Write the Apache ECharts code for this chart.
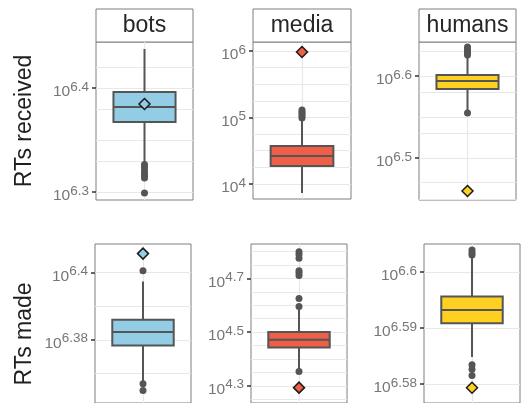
<!DOCTYPE html>
<html>
<head>
<meta charset="utf-8">
<script src="https://cdn.jsdelivr.net/npm/echarts@6.0.0/dist/echarts.min.js"></script>
<style>
html, body { margin: 0; padding: 0; background: #fff; }
#chart { width: 522px; height: 403px; }
</style>
</head>
<body>
<div id="chart"></div>
<script>
// facets
const categories = ['bots', 'media', 'humans'];
const rowTitles = ['RTs received', 'RTs made'];
const boxColors = ['#93cde5', '#ee5e48', '#fdd021'];

// all values are log10 of the counts
// [lower whisker, Q1, median, Q3, upper whisker]
const receivedBots = [6.3285, 6.3673, 6.3817, 6.3962, 6.4375];
const receivedMedia = [3.865, 4.271, 4.421, 4.571, 4.947];
const receivedHumans = [6.5585, 6.5841, 6.5939, 6.6012, 6.6244];
const madeBots = [6.3677, 6.3783, 6.3823, 6.386, 6.3974];
const madeMedia = [4.36, 4.4429, 4.4714, 4.5, 4.587];
const madeHumans = [6.5848, 6.5908, 6.5932, 6.5956, 6.6029];

// outliers
const receivedBotsOut = [6.3265, 6.324, 6.321, 6.318, 6.3155, 6.3135, 6.299];
const receivedMediaOut = [5.113, 5.083, 5.053, 5.023, 4.992];
const receivedHumansOut = [6.6354, 6.633, 6.6305, 6.628, 6.6256, 6.5549];
const madeBotsOut = [6.4006, 6.3669, 6.3649];
const madeMediaOut = [4.8, 4.789, 4.775, 4.729, 4.721, 4.711, 4.625, 4.596, 4.353];
const madeHumansOut = [6.6039, 6.6034, 6.603, 6.5834, 6.5826, 6.5815];

// means (diamonds)
const receivedMeans = [6.3846, 5.985, 6.4598];
const madeMeans = [6.4057, 4.293, 6.5793];

// labelled ticks (exponents of 10)
const receivedTicks = [[6.3, 6.4], [4, 5, 6], [6.5, 6.6]];
const madeTicks = [[6.38, 6.4], [4.3, 4.5, 4.7], [6.58, 6.59, 6.6]];

const boxes = [receivedBots, receivedMedia, receivedHumans, madeBots, madeMedia, madeHumans];
const outliers = [receivedBotsOut, receivedMediaOut, receivedHumansOut, madeBotsOut, madeMediaOut, madeHumansOut];
const means = receivedMeans.concat(madeMeans);
const ticks = receivedTicks.concat(madeTicks);

// panel placement + axis range + minor grid step
const panels = [
  { left: 96, top: 42, width: 97, height: 158, min: 6.2923, max: 6.4442, step: 0.025 },
  { left: 253, top: 42, width: 98, height: 157, min: 3.774, max: 6.135, step: 0.25 },
  { left: 419, top: 42, width: 97, height: 158, min: 6.4488, max: 6.6415, step: 0.025 },
  { left: 95, top: 244, width: 96, height: 166, min: 6.36114, max: 6.40857, step: 0.005 },
  { left: 251, top: 244, width: 96, height: 166, min: 4.2357, max: 4.8286, step: 0.05 },
  { left: 424, top: 244, width: 96, height: 166, min: 6.57658, max: 6.60496, step: 0.0025 }
];

const fontFamily = '"Liberation Sans", Arial, Helvetica, sans-serif';
const tickColor = '#767676';
const borderColor = '#7f7f7f';
const lineColor = '#555555';

const chart = echarts.init(document.getElementById('chart'));

const makeBoxRender = (color) => (params, api) => {
  const x = api.value(0);
  const lo = api.coord([x, api.value(1)]);
  const q1 = api.coord([x, api.value(2)]);
  const md = api.coord([x, api.value(3)]);
  const q3 = api.coord([x, api.value(4)]);
  const hi = api.coord([x, api.value(5)]);
  const half = api.size([1, 0])[0] * 0.32;
  const cx = md[0];
  const line = { stroke: lineColor, lineWidth: 2 };
  return {
    type: 'group',
    children: [
      { type: 'line', shape: { x1: cx, y1: hi[1], x2: cx, y2: q3[1] }, style: line },
      { type: 'line', shape: { x1: cx, y1: q1[1], x2: cx, y2: lo[1] }, style: line },
      { type: 'rect', shape: { x: cx - half, y: q3[1], width: half * 2, height: q1[1] - q3[1] },
        style: { fill: color, stroke: lineColor, lineWidth: 2 } },
      { type: 'line', shape: { x1: cx - half, y1: md[1], x2: cx + half, y2: md[1] }, style: line }
    ]
  };
};

const grid = [], xAxis = [], yAxis = [], series = [], graphic = [];

panels.forEach((p, i) => {
  const col = i % 3;
  const cat = categories[col];
  const color = boxColors[col];

  grid.push({
    left: p.left, top: p.top, width: p.width, height: p.height,
    show: true, borderColor: borderColor, borderWidth: 1, containLabel: false
  });
  xAxis.push({
    type: 'category', gridIndex: i, data: [cat],
    axisLine: { show: false }, axisTick: { show: false }, axisLabel: { show: false },
    splitLine: { show: false }
  });
  yAxis.push({
    type: 'value', gridIndex: i, min: p.min, max: p.max,
    axisLine: { show: false },
    splitLine: { show: false },
    axisTick: { show: true, length: 4, customValues: ticks[i], lineStyle: { color: '#333', width: 1.5 } },
    axisLabel: {
      customValues: ticks[i],
      margin: 7,
      padding: [8, 0, 0, 0],
      formatter: (v) => '{b|10}{s|' + v + '}',
      rich: {
        b: { fontSize: 15.5, lineHeight: 24, color: tickColor, fontFamily: fontFamily },
        s: { fontSize: 13.5, lineHeight: 11, verticalAlign: 'top', color: tickColor, fontFamily: fontFamily }
      }
    }
  });

  // gridlines every quarter of the labelled step
  const gl = [];
  for (let v = Math.ceil(p.min / p.step) * p.step; v <= p.max; v += p.step) {
    gl.push({ yAxis: +v.toFixed(6) });
  }
  gl.push({ xAxis: cat });

  series.push({
    type: 'custom', xAxisIndex: i, yAxisIndex: i, z: 2, silent: true,
    renderItem: makeBoxRender(color),
    encode: { x: 0, y: [1, 2, 3, 4, 5] },
    data: [[0].concat(boxes[i])]
  });
  series.push({
    type: 'scatter', xAxisIndex: i, yAxisIndex: i, z: 3, silent: true,
    symbol: 'circle', symbolSize: 7,
    itemStyle: { color: lineColor, opacity: 1 },
    data: outliers[i].map(v => [0, v]),
    markLine: {
      silent: true, z: 1, symbol: 'none', animation: false,
      label: { show: false },
      lineStyle: { color: '#e8e8e8', width: 1.2, type: 'solid' },
      emphasis: { disabled: true },
      data: gl
    }
  });
  series.push({
    type: 'scatter', xAxisIndex: i, yAxisIndex: i, z: 4, silent: true,
    symbol: 'diamond', symbolSize: 11,
    itemStyle: { color: color, borderColor: '#1a1a1a', borderWidth: 1.5, opacity: 1 },
    data: [[0, means[i]]]
  });

  // facet strip on the top row
  if (i < 3) {
    graphic.push({
      type: 'group',
      children: [
        { type: 'rect', shape: { x: p.left, y: 9, width: p.width, height: p.top - 9 },
          style: { fill: '#fff', stroke: borderColor, lineWidth: 1 } },
        { type: 'text', x: p.left + p.width / 2, y: 9 + (p.top - 9) / 2,
          style: { text: cat, fontSize: 23, fontFamily: fontFamily, fill: '#262626',
                   align: 'center', verticalAlign: 'middle' } }
      ]
    });
  }
});

// row titles
const rowCenters = [121, 334];
rowTitles.forEach((t, r) => {
  graphic.push({
    type: 'text', x: 25, y: rowCenters[r], rotation: Math.PI / 2,
    style: { text: t, fontSize: 23, fontFamily: fontFamily, fill: '#1f1f1f',
             align: 'center', verticalAlign: 'middle' }
  });
});

chart.setOption({
  animation: false,
  backgroundColor: '#fff',
  grid: grid,
  xAxis: xAxis,
  yAxis: yAxis,
  series: series,
  graphic: graphic
});

window.addEventListener('resize', () => chart.resize());
</script>
</body>
</html>
